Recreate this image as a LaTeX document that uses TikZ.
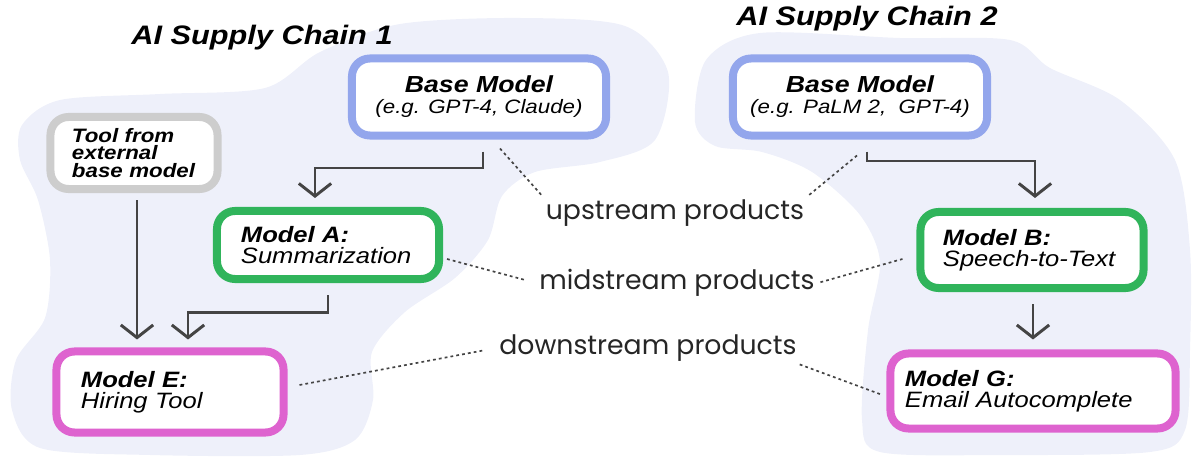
\documentclass[tikz,border=0pt]{standalone}
\usepackage{fontspec}
\setmainfont{Liberation Sans}[FakeStretch=1.15]
\newfontfamily\handfont{Poppins}
\usetikzlibrary{calc}
\usetikzlibrary{positioning, arrows.meta}
\definecolor{haze}{HTML}{EEF0FA}
\definecolor{baseblue}{HTML}{93A6EC}
\definecolor{midgreen}{HTML}{30B45B}
\definecolor{downpink}{HTML}{DE63CF}
\definecolor{toolgrey}{HTML}{CDCDCD}
\definecolor{ink}{HTML}{444444}

\begin{document}
\begin{tikzpicture}[
        x=0.025cm, y=-0.025cm,
        title/.style={font=\fontsize{19}{19}\selectfont\bfseries\itshape},
        box/.style={rounded corners=0.45cm, line width=0.2cm, fill=white, inner sep=0pt,
            font=\fontsize{15.8}{14.8}\selectfont\itshape},
        basebox/.style={box, draw=baseblue, align=center, minimum width=6.35cm, minimum height=1.925cm},
        toolbox/.style={box, draw=toolgrey, align=left, text width=3.1cm, minimum width=4.175cm, minimum height=1.8cm,
            font=\fontsize{13.8}{12.6}\selectfont\bfseries\itshape},
        midbox/.style={box, draw=midgreen, align=left},
        downbox/.style={box, draw=downpink, align=left},
        hand/.style={font=\handfont\fontsize{19}{19}\selectfont, text=black!85, inner sep=2pt},
        flow/.style={ink, line width=2.1pt, -{Straight Barb[length=9pt, width=23pt, line width=2.1pt]}},
        dots/.style={ink, line width=1.2pt, dash pattern=on 2pt off 2.2pt}]

        \useasboundingbox (0,0) rectangle (1196,458);

        % shaded regions of the two chains
        \fill[haze] plot[smooth cycle] coordinates {(22,125) (60,100) (160,94) (265,88) (320,52) (400,24) (520,18)
            (625,26) (668,72) (655,140) (600,162) (535,172) (502,196) (488,240) (455,278) (405,312) (372,352)
            (373,400) (355,440) (300,455) (150,455) (40,448) (12,410) (16,360) (45,318) (50,260) (38,200) (20,160)};
        \fill[haze] plot[smooth cycle] coordinates {(695,122) (706,60) (760,33) (900,38) (1010,40) (1050,68)
            (1120,100) (1175,160) (1190,250) (1190,350) (1185,430) (1150,452) (1000,455) (880,452) (862,420)
            (868,330) (880,262) (860,215) (812,172) (762,152) (715,146)};

        \node[title] (T1) at (262,38) {AI Supply Chain 1};
        \node[title] (T2) at (867,19) {AI Supply Chain 2};

        \node[basebox] (base1) at (479,97) {{\bfseries\fontsize{16.5}{15}\selectfont Base Model}\\{\fontsize{13.8}{14}\selectfont (e.g. GPT-4, Claude)}};
        \node[basebox] (base2) at (860,97) {{\bfseries\fontsize{16.5}{15}\selectfont Base Model}\\{\fontsize{13.8}{14}\selectfont (e.g. PaLM 2,\ \ GPT-4)}};
        \node[toolbox] (tool) at (134,153) {Tool from\\external\\\mbox{base model}};

        \node[midbox, text width=4.35cm, minimum width=5.55cm, minimum height=1.7cm] (A) at (328,245)
            {{\bfseries Model A:}\\Summarization};
        \node[midbox, text width=4.45cm, minimum width=5.575cm, minimum height=1.9cm] (B) at (1032,250)
            {{\bfseries Model B:}\\\mbox{Speech-to-Text}};
        \node[downbox, text width=4.45cm, minimum width=5.675cm, minimum height=2.025cm] (E) at (170,392)
            {{\bfseries Model E:}\\Hiring Tool};
        \node[downbox, text width=6.4cm, minimum width=7.125cm, minimum height=1.875cm] (G) at (1033,391)
            {{\bfseries Model G:}\\Email Autocomplete};

        \node[hand] (up) at (675,213) {upstream products};
        \node[hand] (mid) at (677,283) {midstream products};
        \node[hand] (down) at (648,348) {downstream products};

        % solid flows
        \draw[flow] ($(base1.south)+(4,12)$) |- ($(A.north)+(-13,-39)$) -- ($(A.north)+(-13,-9)$);
        \draw[flow] ($(tool.south)+(3,7)$) -- ($(E.north)+(-33,-8)$);
        \draw[flow] ($(A.south)+(0,12)$) |- ($(E.north)+(18,-35)$) -- ($(E.north)+(18,-8)$);
        \draw[flow] ($(base2.south)+(7,12)$) |- ($(B.north)+(3,-47)$) -- ($(B.north)+(3,-10)$);
        \draw[flow] ($(B.south)+(1,12)$) -- ($(G.north)+(0,-10)$);

        % dotted links to the labels
        \draw[dots] ($(base1.south)+(21,9)$) -- (up.north west);
        \draw[dots] ($(base2.south)+(-3,16)$) -- (up.north east);
        \draw[dots, shorten >=8pt] ($(A.east)+(4,14)$) -- (mid.west);
        \draw[dots, shorten <=2pt] (mid.east) -- ($(B.west)+(-14,9)$);
        \draw[dots, shorten >=8pt] ($(E.east)+(12,-7)$) -- (down.west);
        \draw[dots] (down.south east) -- ($(G.west)+(-4,4)$);

    \end{tikzpicture}
\end{document}
